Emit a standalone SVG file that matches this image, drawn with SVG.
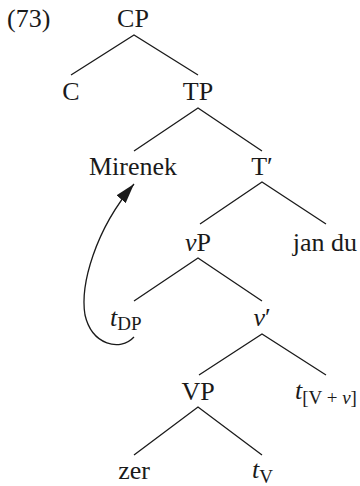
<svg xmlns="http://www.w3.org/2000/svg" width="360" height="486" viewBox="0 0 360 486">
  <style>
    text { font-family: "Liberation Serif", "Times New Roman", serif; font-size: 26px; fill: #1a1a1a; }
    .c { text-anchor: middle; }
    .i { font-style: italic; }
    .sub { font-size: 19px; }
    .edge { stroke: #1a1a1a; stroke-width: 1.3; fill: none; }
    .move { stroke: #1a1a1a; stroke-width: 1.3; fill: none; }
  </style>
  <defs>
    <marker id="arrowhead" markerWidth="20" markerHeight="12" refX="20" refY="6" orient="auto" markerUnits="userSpaceOnUse">
      <path d="M0,0 L20,6 L0,12 z" fill="#1a1a1a"/>
    </marker>
  </defs>

  <text x="7" y="27">(73)</text>

  <g id="edges">
    <path class="edge" d="M71,75 L134,35 L198,75"/>
    <path class="edge" d="M134,151 L198,108 L262,151"/>
    <path class="edge" d="M200,224 L262,182 L326,224"/>
    <path class="edge" d="M134,301 L198,258 L262,301"/>
    <path class="edge" d="M199,375 L262,334 L326,375"/>
    <path class="edge" d="M134,455 L198,407 L262,455"/>
    <path class="move" d="M134,337 C120,352 92,345 85,315 C80,285 95,230 134,184" marker-end="url(#arrowhead)"/>
  </g>

  <g id="n-CP"><text class="c" x="133" y="27">CP</text></g>
  <g id="n-C"><text class="c" x="71" y="100">C</text></g>
  <g id="n-TP"><text class="c" x="198" y="100">TP</text></g>
  <g id="n-Mirenek"><text class="c" x="133" y="175">Mirenek</text></g>
  <g id="n-Tbar"><text class="c" x="262" y="175">T′</text></g>
  <g id="n-vP"><text class="c" x="198" y="251"><tspan class="i">v</tspan>P</text></g>
  <g id="n-jandu"><text class="c" x="325" y="251">jan du</text></g>
  <g id="n-tDP"><text x="110" y="326"><tspan class="i">t</tspan><tspan class="sub" dy="4">DP</tspan></text></g>
  <g id="n-vbar"><text class="c" x="262" y="326"><tspan class="i">v</tspan>′</text></g>
  <g id="n-VP"><text class="c" x="198" y="400">VP</text></g>
  <g id="n-tVv"><text x="295" y="399"><tspan class="i">t</tspan><tspan class="sub" dy="5">[V + <tspan class="i">v</tspan>]</tspan></text></g>
  <g id="n-zer"><text class="c" x="134" y="479">zer</text></g>
  <g id="n-tV"><text x="252" y="478"><tspan class="i">t</tspan><tspan class="sub" dy="5">V</tspan></text></g>
</svg>
